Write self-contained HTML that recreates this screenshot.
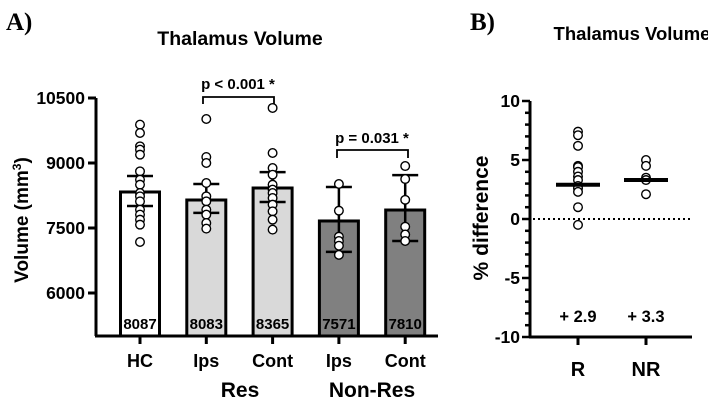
<!DOCTYPE html>
<html><head><meta charset="utf-8"><style>
body{margin:0;background:#fff}
svg{font-family:"Liberation Sans",Arial,sans-serif;font-weight:bold}
</style></head><body>
<svg id="c" width="708" height="401" viewBox="0 0 708 401">
<text x="6" y="30" font-family="Liberation Serif,serif" font-size="25">A)</text>
<text x="240" y="45" text-anchor="middle" font-size="19.5">Thalamus Volume</text>
<text x="470" y="30" font-family="Liberation Serif,serif" font-size="25">B)</text>
<text x="632" y="40" text-anchor="middle" font-size="18.5">Thalamus Volume</text>
<g id="A"></g><g id="B"></g>
</svg>
<script>
const cats=["HC","Ips","Cont","Ips","Cont"];
const means=[8331,8146,8423,7662,7915];
const labels=["8087","8083","8365","7571","7810"];
const errHi=[8700,8515,8790,8446,8720];
const errLo=[8008,7850,8100,6950,7200];
const pts=[
[9885,9692,9385,9308,9192,8808,8615,8500,8308,8231,8115,7923,7808,7692,7577,7177],
[10015,9139,9000,8538,8231,8115,7923,7808,7615,7485],
[10270,9231,8885,8730,8500,8385,8308,8192,8038,7885,7692,7462],
[8515,7900,7300,7200,7090,6880],
[8930,8630,8150,7530,7350,7200]];
const fills=["#ffffff","#d9d9d9","#d9d9d9","#808080","#808080"];
const yTicks=[6000,7500,9000,10500];
const bCats=["R","NR"];
const bPts=[[7.4,7.1,6.2,4.5,4.4,4.0,3.6,3.3,2.8,2.6,2.3,1.0,-0.5],[5.0,4.5,3.5,3.3,2.1]];
const bMeans=[2.9,3.3];
const bLabels=["+ 2.9","+ 3.3"];
const bTicks=[-10,-5,0,5,10];
const NS="http://www.w3.org/2000/svg";
function mk(p,t,a,txt){const e=document.createElementNS(NS,t);for(const k in a)e.setAttribute(k,a[k]);if(txt!==undefined)e.textContent=txt;p.appendChild(e);return e;}
const A=document.getElementById('A'),B=document.getElementById('B');
const y=v=>293-(v-6000)*65/1500;
const x=i=>140+i*66.3;
const bw=39;
mk(A,'line',{x1:96,y1:y(10500),x2:96,y2:336,stroke:'#000','stroke-width':3,});
mk(A,'line',{x1:95,y1:336,x2:438,y2:336,stroke:'#000','stroke-width':3,});
yTicks.forEach(v=>{
 let t=mk(A,'line',{x1:88,x2:96,y1:y(v),y2:y(v),stroke:'#000','stroke-width':3});
 
 let l=mk(A,'text',{x:85,y:y(v)+6,'text-anchor':'end','font-size':17.5},v);
 
});
const yl=mk(A,'text',{transform:'translate(28,220) rotate(-90)','text-anchor':'middle','font-size':19},'');

yl.innerHTML='Volume (mm<tspan dy="-7" font-size="12">3</tspan><tspan dy="7">)</tspan>';
cats.forEach((c,i)=>{
 const cx=x(i);
 let r=mk(A,'rect',{x:cx-bw/2,y:y(means[i]),width:bw,height:336-y(means[i]),fill:fills[i],stroke:'#000','stroke-width':3});
 
 let lt=mk(A,'text',{x:cx,y:329,'text-anchor':'middle','font-size':15},labels[i]);
 
 let e=mk(A,'path',{d:`M${cx},${y(errHi[i])}V${y(errLo[i])}M${cx-13},${y(errHi[i])}h26M${cx-13},${y(errLo[i])}h26`,stroke:'#000','stroke-width':2.5,fill:'none'});
 
 pts[i].forEach(v=>{let p=mk(A,'circle',{cx:cx,cy:y(v),r:4.3,fill:'#fff',stroke:'#000','stroke-width':1.4});
  });
 let tk=mk(A,'line',{x1:cx,x2:cx,y1:336,y2:344,stroke:'#000','stroke-width':3});
 
 let cl=mk(A,'text',{x:cx,y:367,'text-anchor':'middle','font-size':18},c);
 
});
let g1=mk(A,'text',{x:240,y:397,'text-anchor':'middle','font-size':21},'Res');

let g2=mk(A,'text',{x:372,y:397,'text-anchor':'middle','font-size':21},'Non-Res');

let br1=mk(A,'path',{d:'M203,104V97H274V104',stroke:'#000','stroke-width':1.8,fill:'none'});

let p1=mk(A,'text',{x:238,y:89,'text-anchor':'middle','font-size':15},'p < 0.001 *');

let br2=mk(A,'path',{d:'M337,158V150H408V158',stroke:'#000','stroke-width':1.8,fill:'none'});

let p2=mk(A,'text',{x:372,y:143,'text-anchor':'middle','font-size':15},'p = 0.031 *');

const yb=v=>219-v*11.8;
const xb=i=>578+i*68;
mk(B,'line',{x1:530,y1:yb(10),x2:530,y2:337,stroke:'#000','stroke-width':3,});
mk(B,'line',{x1:529,y1:337,x2:692,y2:337,stroke:'#000','stroke-width':3,});
for(let v=-10;v<=10;v++){let t=mk(B,'line',{x1:bTicks.includes(v)?522:525,x2:530,y1:yb(v),y2:yb(v),stroke:'#000','stroke-width':2.5});
 }
bTicks.forEach(v=>{let l=mk(B,'text',{x:520,y:yb(v)+6,'text-anchor':'end','font-size':17.5},v);
 });
let byl=mk(B,'text',{transform:'translate(488,218) rotate(-90)','text-anchor':'middle','font-size':21},'% difference');

let zl=mk(B,'line',{x1:533,x2:692,y1:yb(0),y2:yb(0),stroke:'#000','stroke-width':2,'stroke-dasharray':'2,3'});

bCats.forEach((c,i)=>{
 const cx=xb(i);
 bPts[i].forEach(v=>{let p=mk(B,'circle',{cx:cx,cy:yb(v),r:4.3,fill:'#fff',stroke:'#000','stroke-width':1.4});
  });
 let m=mk(B,'line',{x1:cx-22,x2:cx+22,y1:yb(bMeans[i]),y2:yb(bMeans[i]),stroke:'#000','stroke-width':4});
 
 let ml=mk(B,'text',{x:cx,y:322,'text-anchor':'middle','font-size':16.5},bLabels[i]);
 
 let tk=mk(B,'line',{x1:cx,x2:cx,y1:337,y2:345,stroke:'#000','stroke-width':3});
 
 let cl=mk(B,'text',{x:cx,y:376,'text-anchor':'middle','font-size':20},c);
 
});
</script>
</body></html>
